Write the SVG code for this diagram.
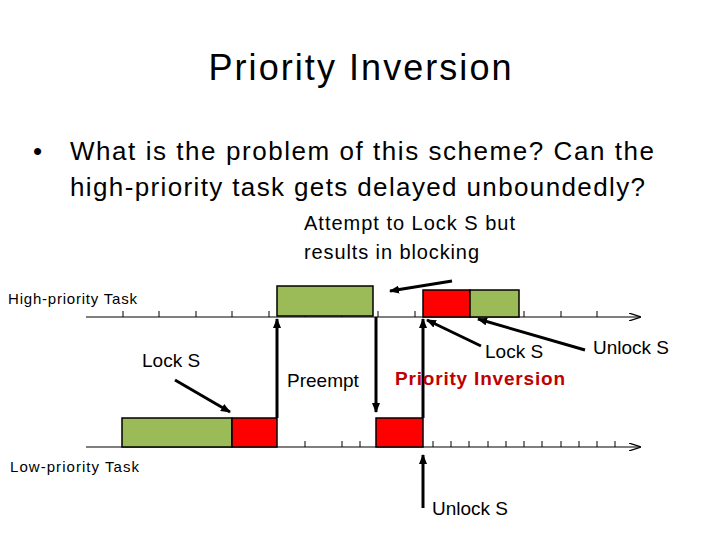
<svg xmlns="http://www.w3.org/2000/svg" width="720" height="540" viewBox="0 0 720 540">
<defs>
<marker id="ah" markerWidth="10" markerHeight="8" refX="9" refY="4" orient="auto" markerUnits="userSpaceOnUse"><path d="M0,0 L10,4 L0,8 z" fill="#000"/></marker>
<marker id="ax" markerWidth="12" markerHeight="8" refX="11" refY="4" orient="auto" markerUnits="userSpaceOnUse"><path d="M0,0 L12,4 L0,8" fill="none" stroke="#000" stroke-width="1.2"/></marker>
</defs>
<style>
text{font-family:"Liberation Sans",Arial,sans-serif;fill:#000}
.g{fill:#9bbb59;stroke:#000;stroke-width:1.5}
.r{fill:#ff0000;stroke:#000;stroke-width:1.5}
.ax{stroke:#000;stroke-width:1.2;fill:none}
.ar{stroke:#000;stroke-width:3;fill:none}
.tk{stroke:#000;stroke-width:1}
</style>
<rect width="720" height="540" fill="#fff"/>
<text x="360" y="80" font-size="36" text-anchor="middle" textLength="303">Priority Inversion</text>
<text x="33" y="160" font-size="26">•</text>
<text x="70" y="160" font-size="26" textLength="584">What is the problem of this scheme? Can the</text>
<text x="70" y="196" font-size="26" textLength="575">high-priority task gets delayed unboundedly?</text>
<text x="304" y="230" font-size="20" textLength="211">Attempt to Lock S but</text>
<text x="304" y="259" font-size="20" textLength="175">results in blocking</text>
<text x="8" y="304" font-size="15" textLength="129">High-priority Task</text>
<text x="10" y="472" font-size="15" textLength="129">Low-priority Task</text>
<g id="axes">
<line class="ax" x1="86" y1="317" x2="640" y2="317" marker-end="url(#ax)"/>
<line class="ax" x1="86" y1="447" x2="640" y2="447" marker-end="url(#ax)"/>
<path class="tk" d="M123,311v6M159,311v6M196,311v6M232,311v6M269,311v6M305,311v6M342,311v6M378,311v6M415,311v6M451,311v6M488,311v6M524,311v6M561,311v6M597,311v6M123,441v6M159,441v6M196,441v6M232,441v6M269,441v6M305,441v6M342,441v6M360,441v6M378,441v6M396,441v6M415,441v6M433,441v6M451,441v6M469,441v6M488,441v6M506,441v6M524,441v6M542,441v6M561,441v6M579,441v6M597,441v6M615,441v6"/>
</g>
<g id="high-boxes">
<rect class="g" x="277" y="286" width="96" height="30"/>
<rect class="r" x="423" y="290" width="47" height="27"/>
<rect class="g" x="470" y="290" width="49" height="27"/>
</g>
<g id="low-boxes">
<rect class="g" x="122" y="418" width="110" height="29"/>
<rect class="r" x="232" y="418" width="45" height="29"/>
<rect class="r" x="376" y="418" width="47" height="29"/>
</g>
<g id="connectors">
<line class="ar" x1="277" y1="418" x2="277" y2="319" marker-end="url(#ah)"/>
<line class="ar" x1="376" y1="317" x2="376" y2="412" marker-end="url(#ah)"/>
<line class="ar" x1="423" y1="418" x2="423" y2="319" marker-end="url(#ah)"/>
<line class="ar" x1="423" y1="508" x2="423" y2="455" marker-end="url(#ah)"/>
<line class="ar" x1="175" y1="380" x2="230" y2="412" marker-end="url(#ah)"/>
<line class="ar" x1="481" y1="346" x2="427" y2="320" marker-end="url(#ah)"/>
<line class="ar" x1="585" y1="350" x2="478" y2="319" marker-end="url(#ah)"/>
<line class="ar" x1="452" y1="281" x2="390" y2="291" marker-end="url(#ah)"/>
</g>
<text x="142" y="367" font-size="19">Lock S</text>
<text x="287" y="387" font-size="19">Preempt</text>
<text x="485" y="358" font-size="19">Lock S</text>
<text x="593" y="354" font-size="19">Unlock S</text>
<text x="395" y="385" font-size="19" font-weight="bold" style="fill:#c00000" textLength="170">Priority Inversion</text>
<text x="432" y="515" font-size="19">Unlock S</text>
</svg>
